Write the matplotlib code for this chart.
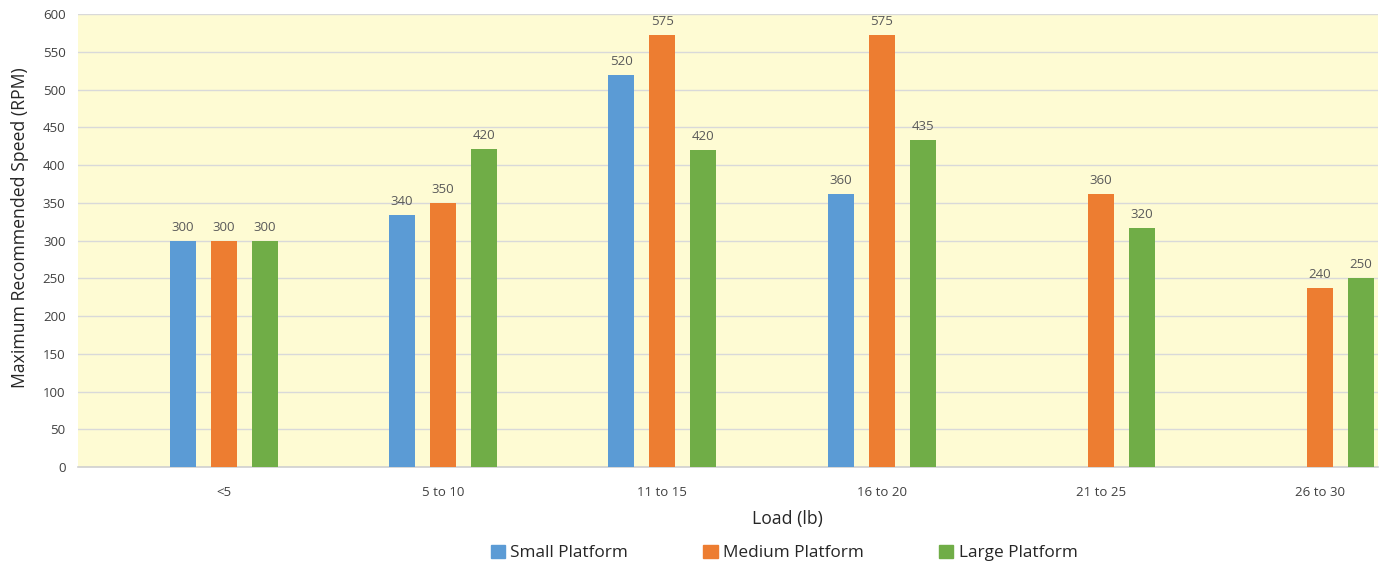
import numpy as np
import matplotlib
matplotlib.use("Agg")
import matplotlib.pyplot as plt
from matplotlib.patches import Patch

plt.rcParams['font.family'] = ['Open Sans', 'DejaVu Sans']

# data
loads = ["<5", "5 to 10", "11 to 15", "16 to 20", "21 to 25", "26 to 30"]
small  = [300, 334, 520, 362, np.nan, np.nan]
medium = [300, 350, 573, 573, 362, 237]
large  = [300, 421, 420, 434, 317, 250]
# data labels printed above the bars
small_lbl  = ["300", "340", "520", "360", "", ""]
medium_lbl = ["300", "350", "575", "575", "360", "240"]
large_lbl  = ["300", "420", "420", "435", "320", "250"]

series = [("Small Platform", small, small_lbl, "#5B9BD5"),
          ("Medium Platform", medium, medium_lbl, "#ED7D31"),
          ("Large Platform", large, large_lbl, "#70AD47")]

fig = plt.figure(figsize=(13.86, 5.70), dpi=100)
ax = fig.add_axes([78/1386, 103/570, 1300/1386, 452.7/570])
ax.set_facecolor("#FEFBD3")

x = np.arange(len(loads))
w = 0.1186
step = 0.187
for k, (name, vals, lbls, col) in enumerate(series):
    xs = x + (k - 1) * step
    ax.bar(xs, vals, width=w, color=col, zorder=3)
    for xi, v, t in zip(xs, vals, lbls):
        if t:
            ax.annotate(t, (xi, v), xytext=(0, 5), textcoords="offset points",
                        ha="center", va="bottom", fontsize=9.5, color="#595959")

ax.set_xlim(-0.666, 5.265)
ax.set_ylim(0, 600)
ax.set_yticks(np.arange(0, 601, 50))
ax.set_xticks(x)
ax.set_xticklabels(loads)
ax.yaxis.grid(True, color="#D9D9D9", linewidth=1, zorder=0)
ax.set_axisbelow(True)
for s in ["top", "right", "left"]:
    ax.spines[s].set_visible(False)
ax.spines["bottom"].set_color("#D0D0D0")
ax.spines["bottom"].set_linewidth(1.2)
ax.tick_params(axis="both", length=0, labelsize=9.5, labelcolor="#404040")
ax.tick_params(axis="y", pad=9)
ax.tick_params(axis="x", pad=14)

ax.set_xlabel("Load (lb)", fontsize=12.7, color="#262626")
ax.set_ylabel("Maximum Recommended Speed (RPM)", fontsize=12.7, color="#262626")
# Excel puts the axis titles slightly off the plot-area centre
ax.xaxis.set_label_coords((787 - 78) / 1300, -(519 - 467) / 452.7, transform=ax.transAxes)
ax.yaxis.set_label_coords(-(78 - 20) / 1300, (467 - 228) / 452.7, transform=ax.transAxes)
ax.xaxis.label.set_va("center")
ax.yaxis.label.set_va("center")

handles = [Patch(color=c, label=n) for n, _, _, c in series]
fig.legend(handles=handles, loc="center", bbox_to_anchor=(784/1386, 1 - 553/570),
           ncol=3, frameon=False, fontsize=12.4, handlelength=0.85, handleheight=0.85,
           handletextpad=0.3, columnspacing=4.35, labelcolor="#262626")

fig.savefig("out.png", dpi=100, facecolor="white")
